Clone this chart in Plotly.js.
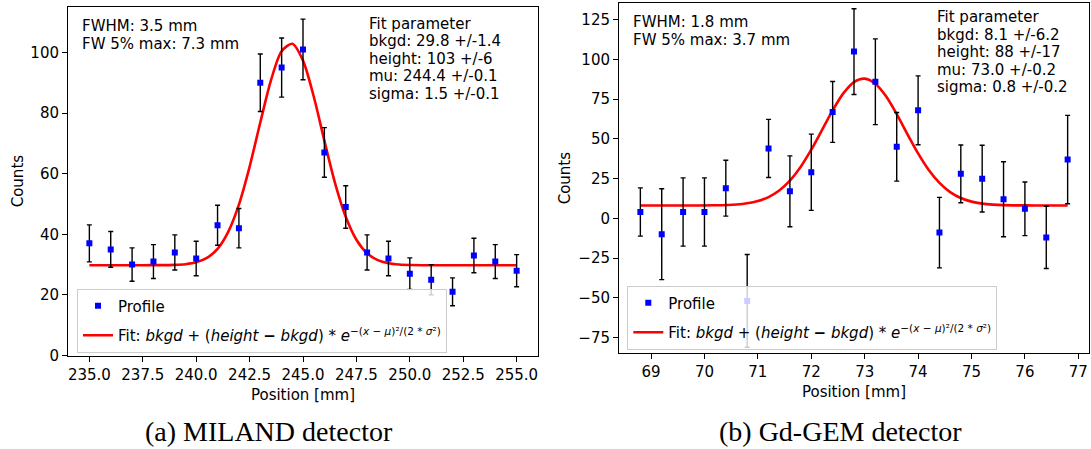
<!DOCTYPE html>
<html>
<head>
<meta charset="utf-8">
<script src="https://cdn.plot.ly/plotly-3.0.1.min.js"></script>
<style>
  html, body { margin: 0; padding: 0; background: #ffffff; }
  #chart { width: 1091px; height: 449px; }
</style>
</head>
<body>
<div id="chart"></div>
<script>
// ---------------- Data: (a) MILAND detector ----------------
const milandPosition = [235, 236, 237, 238, 239, 240, 241, 242, 243, 244, 245, 246, 247, 248, 249, 250, 251, 252, 253, 254, 255];
const milandCounts   = [37, 35, 30, 31, 34, 32, 43, 42, 90, 95, 101, 67, 49, 34, 32, 27, 25, 21, 33, 31, 28];
const milandErrors   = [6.1, 5.9, 5.5, 5.6, 5.8, 5.7, 6.6, 6.5, 9.5, 9.75, 10.0, 8.2, 7.0, 5.8, 5.7, 5.2, 5.0, 4.6, 5.7, 5.6, 5.3];
const milandFitX = [235, 236, 237, 238, 238.5, 239, 239.5, 240, 240.5, 241, 241.5, 242, 242.5, 243, 243.5, 244, 244.5, 245, 245.5, 246, 246.5, 247, 247.5, 248, 248.5, 249, 249.5, 250, 251, 253, 255];
const milandFitY = [29.8, 29.8, 29.8, 29.81, 29.83, 29.9, 30.13, 30.74, 32.18, 35.21, 40.82, 49.81, 62.26, 76.88, 90.8, 100.41, 102.84, 97.3, 85.54, 70.92, 56.91, 45.77, 38.2, 33.75, 31.46, 30.42, 30.01, 29.86, 29.8, 29.8, 29.8];
const milandXTicks = [235.0, 237.5, 240.0, 242.5, 245.0, 247.5, 250.0, 252.5, 255.0];
const milandYTicks = [0, 20, 40, 60, 80, 100];

// ---------------- Data: (b) Gd-GEM detector ----------------
const gemPosition = [68.8, 69.2, 69.6, 70.0, 70.4, 70.8, 71.2, 71.6, 72.0, 72.4, 72.8, 73.2, 73.6, 74.0, 74.4, 74.8, 75.2, 75.6, 76.0, 76.4, 76.8];
const gemCounts   = [4, -10, 4, 4, 19, -52, 44, 17, 29, 67, 105, 86, 45, 68, -9, 28, 25, 12, 6, -12, 37];
const gemErrors   = [15.2, 28.6, 21.5, 21.5, 17.6, 29.2, 18.3, 22.3, 24.0, 19.2, 27.0, 27.0, 21.6, 21.7, 22.2, 18.2, 21.0, 23.6, 16.9, 19.6, 27.8];
const gemFitX = [68.8, 69.6, 70.2, 70.6, 70.8, 71.0, 71.2, 71.4, 71.6, 71.8, 72.0, 72.2, 72.4, 72.6, 72.8, 73.0, 73.2, 73.4, 73.6, 73.8, 74.0, 74.2, 74.4, 74.6, 74.8, 75.0, 75.2, 75.4, 75.6, 76.0, 76.4, 76.8];
const gemFitY = [8.1, 8.1, 8.2, 8.72, 9.46, 10.88, 13.4, 17.52, 23.74, 32.34, 43.2, 55.54, 68.0, 78.7, 85.81, 87.98, 84.76, 76.8, 65.58, 53.02, 40.88, 30.42, 22.31, 16.54, 12.78, 10.52, 9.27, 8.63, 8.32, 8.13, 8.1, 8.1];
const gemXTicks = [69, 70, 71, 72, 73, 74, 75, 76, 77];
const gemYTicks = [-75, -50, -25, 0, 25, 50, 75, 100, 125];

// ---------------- Texts ----------------
const fitLegendLabel = 'Fit: <i>bkgd</i> + (<i>height</i> <b>\u2212</b> <i>bkgd</i>) * <i>e</i><sup>\u2212(<i>x</i> \u2212 <i>\u03bc</i>)\u00b2/(2 * <i>\u03c3</i>\u00b2)</sup>';
const milandInfo = ['FWHM: 3.5 mm', 'FW 5% max: 7.3 mm'];
const milandParams = ['Fit parameter', 'bkgd: 29.8 +/-1.4', 'height: 103 +/-6', 'mu: 244.4 +/-0.1', 'sigma: 1.5 +/-0.1'];
const gemInfo = ['FWHM: 1.8 mm', 'FW 5% max: 3.7 mm'];
const gemParams = ['Fit parameter', 'bkgd: 8.1 +/-6.2', 'height: 88 +/-17', 'mu: 73.0 +/-0.2', 'sigma: 0.8 +/-0.2'];
const captions = ['(a) MILAND detector', '(b) Gd-GEM detector'];

// ---------------- Layout helpers ----------------
const W = 1091, H = 449;
const fx = p => p / W;
const fy = p => 1 - p / H;
const FONT = 'DejaVu Sans, sans-serif';
const FS = 15;

function textLines(lines, xPx, firstBaselinePx, step) {
  return lines.map((t, i) => ({
    text: t, xref: 'paper', yref: 'paper',
    x: fx(xPx), y: fy(firstBaselinePx + i * step - 4.5),
    xanchor: 'left', yanchor: 'middle', showarrow: false,
    font: { family: FONT, size: FS, color: '#000000' }
  }));
}

const traces = [
  { x: milandFitX, y: milandFitY, type: 'scatter', mode: 'lines', name: fitLegendLabel,
    line: { color: '#ff0000', width: 2.6, shape: 'spline', smoothing: 0.8 },
    xaxis: 'x', yaxis: 'y', legend: 'legend', legendgroup: 'fitA', legendrank: 2, hoverinfo: 'skip' },
  { x: milandPosition, y: milandCounts, type: 'scatter', mode: 'markers', name: 'Profile',
    marker: { symbol: 'square', size: 6, color: '#0000ff' },
    error_y: { type: 'data', array: milandErrors, visible: true, color: '#000000', thickness: 1.4, width: 2.5 },
    xaxis: 'x', yaxis: 'y', legend: 'legend', legendgroup: 'profA', legendrank: 1 },
  { x: gemFitX, y: gemFitY, type: 'scatter', mode: 'lines', name: fitLegendLabel,
    line: { color: '#ff0000', width: 2.6, shape: 'spline', smoothing: 0.8 },
    xaxis: 'x2', yaxis: 'y2', legend: 'legend2', legendgroup: 'fitB', legendrank: 2, hoverinfo: 'skip' },
  { x: gemPosition, y: gemCounts, type: 'scatter', mode: 'markers', name: 'Profile',
    marker: { symbol: 'square', size: 6, color: '#0000ff' },
    error_y: { type: 'data', array: gemErrors, visible: true, color: '#000000', thickness: 1.4, width: 2.5 },
    xaxis: 'x2', yaxis: 'y2', legend: 'legend2', legendgroup: 'profB', legendrank: 1 }
];

const axisCommon = {
  showgrid: false, zeroline: false, showline: true, mirror: true,
  linecolor: '#000000', linewidth: 1, ticks: 'outside', ticklen: 5, tickwidth: 1, tickcolor: '#000000',
  tickfont: { family: FONT, size: FS, color: '#000000' }
};

const legendCommon = {
  bgcolor: 'rgba(255,255,255,0.8)', bordercolor: '#cccccc', borderwidth: 1,
  font: { family: FONT, size: FS, color: '#000000' },
  xanchor: 'left', yanchor: 'top', orientation: 'v', traceorder: 'grouped', tracegroupgap: 7
};

const layout = {
  width: W, height: H,
  margin: { l: 0, r: 0, t: 0, b: 0 },
  paper_bgcolor: '#ffffff', plot_bgcolor: '#ffffff',
  showlegend: true,
  font: { family: FONT, size: FS, color: '#000000' },
  xaxis: Object.assign({}, axisCommon, {
    domain: [fx(68), fx(538)], range: [234, 256], anchor: 'y',
    tickvals: milandXTicks, tickformat: '.1f',
    title: { text: 'Position [mm]', font: { family: FONT, size: FS }, standoff: 6 }
  }),
  yaxis: Object.assign({}, axisCommon, {
    domain: [fy(355.5), fy(6.7)], range: [0, 115.1], anchor: 'x',
    tickvals: milandYTicks,
    title: { text: 'Counts', font: { family: FONT, size: FS }, standoff: 3 }
  }),
  xaxis2: Object.assign({}, axisCommon, {
    domain: [fx(619), fx(1089)], range: [68.4, 77.2], anchor: 'y2',
    tickvals: gemXTicks,
    title: { text: 'Position [mm]', font: { family: FONT, size: FS }, standoff: 6 }
  }),
  yaxis2: Object.assign({}, axisCommon, {
    domain: [fy(353), fy(3.3)], range: [-84.8, 135.4], anchor: 'x2',
    tickvals: gemYTicks,
    title: { text: 'Counts', font: { family: FONT, size: FS }, standoff: 4 }
  }),
  legend: Object.assign({}, legendCommon, { x: fx(77), y: fy(288.5) }),
  legend2: Object.assign({}, legendCommon, { x: fx(627.3), y: fy(285.5) }),
  annotations: [].concat(
    textLines(milandInfo, 80, 30.7, 17.4),
    textLines(milandParams, 367.3, 28.3, 17.5),
    textLines(gemInfo, 630.7, 26.7, 17.4),
    textLines(gemParams, 935, 21.7, 17.5),
    [
      { text: captions[0], xref: 'paper', yref: 'paper', x: fx(268.5), y: fy(431), xanchor: 'center', yanchor: 'middle',
        showarrow: false, font: { family: 'Liberation Serif, Times New Roman, serif', size: 28, color: '#000000' } },
      { text: captions[1], xref: 'paper', yref: 'paper', x: fx(840), y: fy(431), xanchor: 'center', yanchor: 'middle',
        showarrow: false, font: { family: 'Liberation Serif, Times New Roman, serif', size: 28, color: '#000000' } }
    ]
  )
};

Plotly.newPlot('chart', traces, layout, { displayModeBar: false, staticPlot: true });
</script>
</body>
</html>
